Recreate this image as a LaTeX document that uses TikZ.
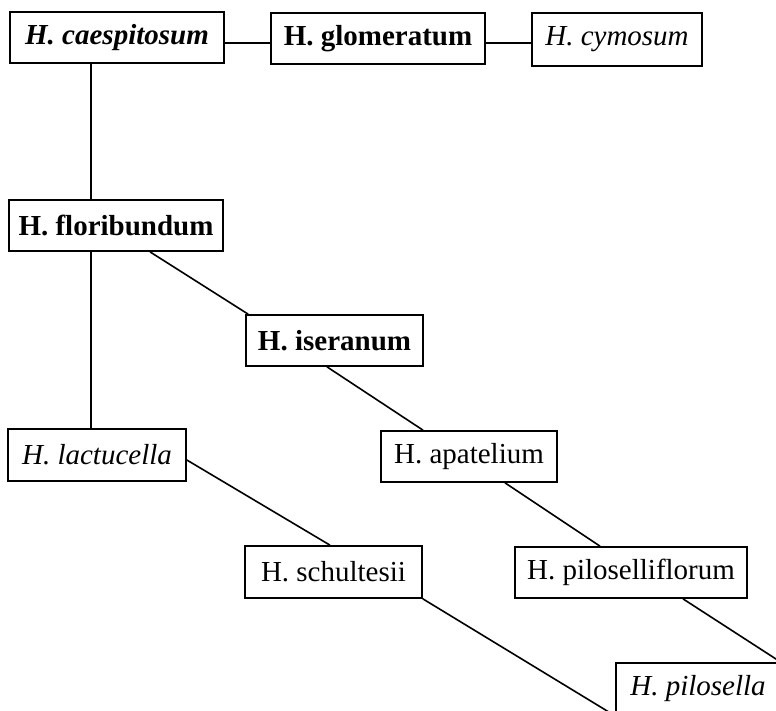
\documentclass[tikz,border=0pt]{standalone}
\usepackage{fontspec}
\setmainfont{Liberation Serif}
\begin{document}
\begin{tikzpicture}[x=1pt,y=-1pt,
  taxon/.style={draw, line width=1.7pt, fill=white, inner sep=0pt, font=\fontsize{29}{31}\selectfont},
  link/.style={line width=1.6pt}]
\useasboundingbox (0,0) rectangle (776,710);
\clip (0,0) rectangle (776,710);
\node[taxon, minimum width=214pt, minimum height=51pt, font=\fontsize{29}{31}\selectfont\bfseries\itshape] (caes) at (117,37.5) {H. caespitosum};
\node[taxon, minimum width=214pt, minimum height=51pt, font=\fontsize{29}{31}\selectfont\bfseries] (glom) at (378,38.5) {H. glomeratum};
\node[taxon, minimum width=170pt, minimum height=53pt, font=\fontsize{29}{31}\selectfont\itshape] (cymo) at (617,39.5) {H. cymosum};
\node[taxon, minimum width=214pt, minimum height=51pt, font=\fontsize{29}{31}\selectfont\bfseries] (flor) at (116,225.5) {H. floribundum};
\node[taxon, minimum width=177pt, minimum height=51pt, font=\fontsize{29}{31}\selectfont\bfseries] (iser) at (334.5,340.5) {H. iseranum};
\node[taxon, minimum width=178pt, minimum height=52pt, font=\fontsize{29}{31}\selectfont\itshape] (lact) at (97,455) {H. lactucella};
\node[taxon, minimum width=176pt, minimum height=51pt] (apat) at (469,456.5) {H. apatelium};
\node[taxon, minimum width=177pt, minimum height=52pt] (schu) at (333.5,572) {H. schultesii};
\node[taxon, minimum width=232pt, minimum height=51pt] (pilf) at (631,572.5) {H. piloselliflorum};
\node[taxon, minimum width=164pt, minimum height=52pt, font=\fontsize{29}{31}\selectfont\itshape] (pils) at (698,689) {H. pilosella};
\draw[link] ([yshift=-5.5pt]caes.east) -- ([yshift=-4.5pt]glom.west);
\draw[link] ([yshift=-4.5pt]glom.east) -- ([yshift=-3.5pt]cymo.west);
\draw[link] ([xshift=82pt]caes.south west) -- ([xshift=83pt]flor.north west);
\draw[link] ([xshift=83pt]flor.south west) -- ([xshift=84pt]lact.north west);
\draw[link] ([xshift=34pt]flor.south) -- ([xshift=3pt]iser.north west);
\draw[link] ([xshift=-7.5pt]iser.south) -- ([xshift=-46pt]apat.north);
\draw[link] ([yshift=-5pt]lact.east) -- ([xshift=-3.5pt]schu.north);
\draw[link] ([xshift=36pt]apat.south) -- ([xshift=-31pt]pilf.north);
\draw[link] (schu.south east) -- (pils.south west);
\draw[link] ([xshift=52pt]pilf.south) -- (pils.north east);
\end{tikzpicture}
\end{document}
